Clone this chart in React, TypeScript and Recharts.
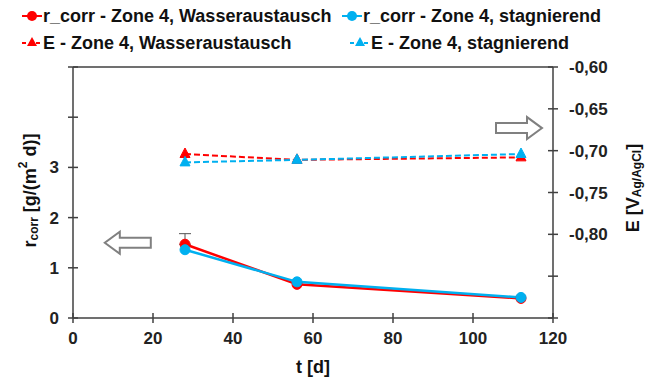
import { ComposedChart, Line, XAxis, YAxis, ReferenceLine, ReferenceDot, ErrorBar } from "recharts";

const days = [28, 56, 112];
const rWasser = [1.47, 0.67, 0.39];
const rWasserErr: (number[] | null)[] = [[0, 0.21], null, null];
const rStag = [1.36, 0.72, 0.41];
const eWasser = [-0.704, -0.711, -0.708];
const eStag = [-0.714, -0.711, -0.704];

const xTicks = [0, 20, 40, 60, 80, 100, 120];
const leftTicks = [0, 1, 2, 3, 4, 5];
const leftLabeled = [0, 1, 2, 3];
const rightTicks = [-0.9, -0.85, -0.8, -0.75, -0.7, -0.65, -0.6];
const rightLabeled = ["-0,80", "-0,75", "-0,70", "-0,65", "-0,60"];

const RED = "#ff0000";
const BLUE = "#00b0f0";
const AXIS = "#404040";
const FONT = "'Liberation Sans', Arial, sans-serif";

const data = days.map((t, i) => ({
  t,
  rW: rWasser[i],
  rWErr: rWasserErr[i],
  rS: rStag[i],
  eW: eWasser[i],
  eS: eStag[i],
}));

const fmtRight = (v: number) => v.toFixed(2).replace(".", ",");

function LeftTick(props: any) {
  const { x, y, payload } = props;
  const show = leftLabeled.includes(payload.value);
  return (
    <g>
      <line x1={x - 5} x2={x + 5} y1={y} y2={y} stroke={AXIS} strokeWidth={1.5} />
      {show && (
        <text x={x - 14} y={y + 6} textAnchor="end" fontSize={17} fontWeight="bold" fill="#222" fontFamily={FONT}>
          {payload.value}
        </text>
      )}
    </g>
  );
}

function RightTick(props: any) {
  const { x, y, payload } = props;
  const label = fmtRight(payload.value);
  const show = rightLabeled.includes(label);
  return (
    <g>
      <line x1={x - 5} x2={x + 5} y1={y} y2={y} stroke={AXIS} strokeWidth={1.5} />
      {show && (
        <text x={x + 16} y={y + 6} textAnchor="start" fontSize={17} fontWeight="bold" fill="#222" fontFamily={FONT}>
          {label}
        </text>
      )}
    </g>
  );
}

function BottomTick(props: any) {
  const { x, y, payload } = props;
  return (
    <g>
      <line x1={x} x2={x} y1={y - 5} y2={y + 5} stroke={AXIS} strokeWidth={1.5} />
      <text x={x} y={y + 26} textAnchor="middle" fontSize={17} fontWeight="bold" fill="#222" fontFamily={FONT}>
        {payload.value}
      </text>
    </g>
  );
}

function Triangle(color: string) {
  return (props: any) => {
    const { cx, cy, key } = props;
    if (cx == null || cy == null) return <g key={key} />;
    return (
      <polygon
        key={key}
        points={`${cx},${cy - 6} ${cx - 5},${cy + 3.5} ${cx + 5},${cy + 3.5}`}
        fill={color}
        stroke={color}
      />
    );
  };
}

function ArrowShape(dir: "left" | "right") {
  return (props: any) => {
    const { cx, cy } = props;
    const s = dir === "left" ? -1 : 1;
    const pts = [
      [-23, -5],
      [8, -5],
      [8, -11],
      [23, 0],
      [8, 11],
      [8, 5],
      [-23, 5],
    ]
      .map(([px, py]) => `${cx + s * px},${cy + py}`)
      .join(" ");
    return <polygon points={pts} fill="#fff" stroke="#808080" strokeWidth={2} />;
  };
}

function LegendItem({ color, dashed, tri, label, x, y }: any) {
  return (
    <g>
      <line x1={x} x2={x + 20} y1={y} y2={y} stroke={color} strokeWidth={2} strokeDasharray={dashed ? "4 3" : undefined} />
      {tri ? (
        <polygon points={`${x + 10},${y - 6} ${x + 5},${y + 3} ${x + 15},${y + 3}`} fill={color} />
      ) : (
        <circle cx={x + 10} cy={y} r={5} fill={color} />
      )}
      <text x={x + 21} y={y + 6} fontSize={18} fontWeight="bold" fill="#111" fontFamily={FONT}>
        {label}
      </text>
    </g>
  );
}

export default function App() {
  return (
    <div style={{ position: "absolute", left: 0, top: 0, width: 646, height: 379, background: "#fff" }}>
      <ComposedChart width={646} height={379} data={data} margin={{ top: 67, right: 0, left: 0, bottom: 0 }}>
        <XAxis
          dataKey="t"
          type="number"
          domain={[0, 120]}
          ticks={xTicks}
          height={61}
          tickSize={0}
          tickMargin={0}
          tickLine={false}
          axisLine={{ stroke: AXIS, strokeWidth: 1.5 }}
          tick={<BottomTick />}
          interval={0}
          label={{
            value: "t [d]",
            position: "insideBottom",
            offset: 6,
            style: { fontSize: 18, fontWeight: "bold", fill: "#111", fontFamily: FONT },
          }}
        />
        <YAxis
          yAxisId="left"
          domain={[0, 5]}
          ticks={leftTicks}
          width={73}
          tickSize={0}
          tickMargin={0}
          tickLine={false}
          interval={0}
          axisLine={{ stroke: AXIS, strokeWidth: 1.5 }}
          tick={<LeftTick />}
          label={(p: any) => {
            const vb = p.viewBox || {};
            const cx = 30;
            const cy = vb.y + vb.height / 2 - 2;
            return (
              <text
                x={cx}
                y={cy}
                transform={`rotate(-90 ${cx} ${cy})`}
                textAnchor="middle"
                dominantBaseline="central"
                fontSize={18}
                fontWeight="bold"
                fill="#111"
                fontFamily={FONT}
              >
                r<tspan fontSize={12} dy={4}>corr</tspan>
                <tspan dy={-4}> [g/(m</tspan>
                <tspan fontSize={12} dy={-7}>2</tspan>
                <tspan dy={7}> d)]</tspan>
              </text>
            );
          }}
        />
        <YAxis
          yAxisId="right"
          orientation="right"
          domain={[-0.9, -0.6]}
          ticks={rightTicks}
          width={93}
          tickSize={0}
          tickMargin={0}
          tickLine={false}
          interval={0}
          axisLine={{ stroke: AXIS, strokeWidth: 1.5 }}
          tick={<RightTick />}
          label={() => {
            const cx = 633;
            const cy = 188;
            return (
              <text
                x={cx}
                y={cy}
                transform={`rotate(-90 ${cx} ${cy})`}
                textAnchor="middle"
                dominantBaseline="central"
                fontSize={18}
                fontWeight="bold"
                fill="#111"
                fontFamily={FONT}
              >
                E [V<tspan fontSize={12} dy={4}>Ag/AgCl</tspan>
                <tspan dy={-4}>]</tspan>
              </text>
            );
          }}
        />
        <ReferenceLine yAxisId="left" y={5} stroke={AXIS} strokeWidth={1.5} />
        <ReferenceDot yAxisId="left" x={13.7} y={1.5} r={0} shape={ArrowShape("left")} />
        <ReferenceDot yAxisId="right" x={111.5} y={-0.673} r={0} shape={ArrowShape("right")} />
        <Line
          yAxisId="left"
          dataKey="rW"
          stroke={RED}
          strokeWidth={2.5}
          dot={{ r: 5, fill: RED, stroke: RED, strokeWidth: 1 }}
          isAnimationActive={false}
        >
          <ErrorBar dataKey="rWErr" width={6} stroke="#555" strokeWidth={1} direction="y" />
        </Line>
        <Line
          yAxisId="left"
          dataKey="rS"
          stroke={BLUE}
          strokeWidth={2.5}
          dot={{ r: 5, fill: BLUE, stroke: BLUE, strokeWidth: 1 }}
          isAnimationActive={false}
        />
        <Line
          yAxisId="right"
          dataKey="eW"
          stroke={RED}
          strokeWidth={2}
          strokeDasharray="6 3"
          dot={Triangle(RED)}
          isAnimationActive={false}
        />
        <Line
          yAxisId="right"
          dataKey="eS"
          stroke={BLUE}
          strokeWidth={2}
          strokeDasharray="6 3"
          dot={Triangle(BLUE)}
          isAnimationActive={false}
        />
      </ComposedChart>
      <svg width={646} height={60} style={{ position: "absolute", left: 0, top: 0 }}>
        <LegendItem color={RED} label="r_corr - Zone 4, Wasseraustausch" x={22} y={16} />
        <LegendItem color={BLUE} label="r_corr - Zone 4, stagnierend" x={342} y={16} />
        <LegendItem color={RED} dashed tri label="E - Zone 4, Wasseraustausch" x={22} y={43} />
        <LegendItem color={BLUE} dashed tri label="E - Zone 4, stagnierend" x={350} y={43} />
      </svg>
    </div>
  );
}
